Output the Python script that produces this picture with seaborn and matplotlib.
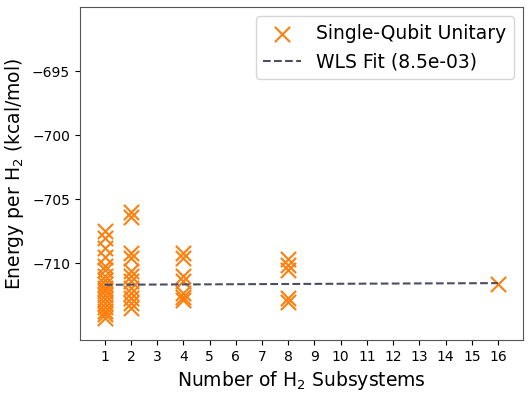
import numpy as np
import pandas as pd
from matplotlib import pyplot as plt
import seaborn as sns

# energies per H2, grouped by number of subsystems
n_1 = [1] * 18
e_1 = [-707.5, -708.0, -708.8, -709.5, -710.2, -710.5, -711.0, -711.3, -711.6,
       -711.9, -712.2, -712.5, -712.8, -713.1, -713.4, -713.7, -714.0, -714.3]
n_2 = [2] * 12
e_2 = [-706.0, -706.4, -709.2, -709.6, -710.6, -711.0, -711.4, -711.9,
       -712.3, -712.7, -713.1, -713.5]
n_4 = [4] * 7
e_4 = [-709.2, -709.6, -711.0, -711.4, -712.3, -712.6, -712.9]
n_8 = [8] * 5
e_8 = [-709.7, -710.1, -710.5, -712.7, -713.0]
n_16 = [16]
e_16 = [-711.6]

fit_x = [1, 16]
fit_y = [-711.68, -711.55]
fit_label = "WLS Fit (8.5e-03)"

df = pd.DataFrame({
    "n": n_1 + n_2 + n_4 + n_8 + n_16,
    "energy": e_1 + e_2 + e_4 + e_8 + e_16,
})

fig, ax = plt.subplots(figsize=(5.32, 3.95), dpi=100)
fig.subplots_adjust(left=0.150, right=0.983, top=0.982, bottom=0.139)

sns.scatterplot(ax=ax, data=df, x="n", y="energy", marker="x", s=120,
                color="#ff7f0e", linewidth=1.5, label="Single-Qubit Unitary")
sns.lineplot(ax=ax, x=fit_x, y=fit_y, color="#4d4d63", linestyle="--",
             linewidth=1.5, label=fit_label)

ax.set_xlim(0.05, 16.95)
ax.set_ylim(-716, -690)
ax.set_xticks(range(1, 17))
ax.set_yticks([-710, -705, -700, -695])
ax.tick_params(labelsize=10)
for s in ax.spines.values():
    s.set_color("#555555")

ax.set_xlabel("Number of H$_2$ Subsystems", fontsize=13.5)
ax.set_ylabel("Energy per H$_2$ (kcal/mol)", fontsize=13.5)
ax.legend(loc="upper right", fontsize=13.5)

fig.savefig("out.png", dpi=100)
